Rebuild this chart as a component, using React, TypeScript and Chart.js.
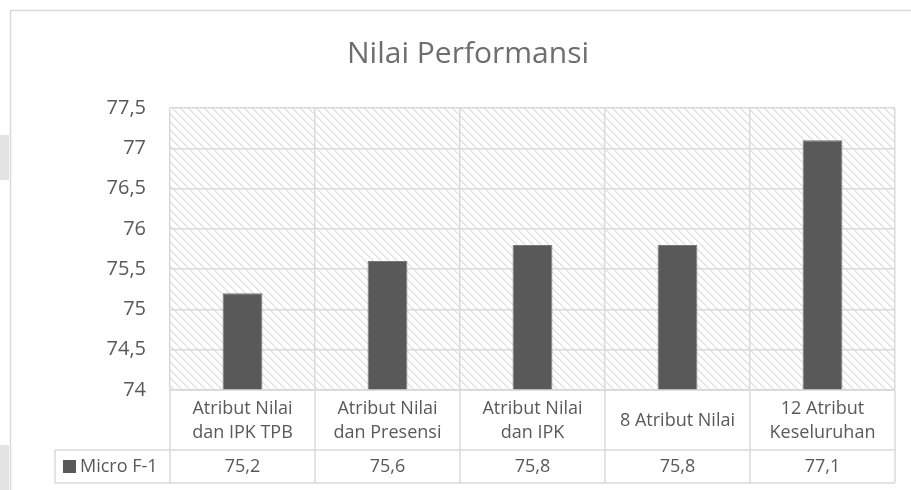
import React, { useEffect, useRef } from "react";
import { Chart, registerables } from "chart.js";

Chart.register(...registerables);

const title = "Nilai Performansi";
const seriesName = "Micro F-1";
const categories: string[][] = [
  ["Atribut Nilai", "dan IPK TPB"],
  ["Atribut Nilai", "dan Presensi"],
  ["Atribut Nilai", "dan IPK"],
  ["8 Atribut Nilai"],
  ["12 Atribut", "Keseluruhan"],
];
const values: number[] = [75.2, 75.6, 75.8, 75.8, 77.1];
const yMin = 74;
const yMax = 77.5;
const yStep = 0.5;

const FONT = "'Open Sans', 'Noto Sans', sans-serif";
const TEXT = "#595959";
const GRID = "#d9d9d9";
const BAR = "#595959";

const fmt = (v: number) => String(v).replace(".", ",");

function makePattern(ctx: CanvasRenderingContext2D) {
  const c = document.createElement("canvas");
  c.width = 8;
  c.height = 8;
  const p = c.getContext("2d")!;
  p.fillStyle = "#ffffff";
  p.fillRect(0, 0, 8, 8);
  for (let i = 0; i < 8; i++) {
    p.fillStyle = "#dedede";
    p.fillRect(i, i, 1, 1);
    p.fillStyle = "#ebebeb";
    p.fillRect((i + 1) % 8, i, 1, 1);
  }
  return ctx.createPattern(c, "repeat");
}

const ROW1 = 60;
const ROW2 = 33;

const decorPlugin = {
  id: "decor",
  beforeDraw(chart: any) {
    const { ctx, chartArea } = chart;
    ctx.save();
    ctx.fillStyle = "#ffffff";
    ctx.fillRect(0, 0, chart.width, chart.height);
    // page side blocks
    ctx.fillStyle = "#e3e3e3";
    ctx.fillRect(0, 135, 9, 45);
    ctx.fillRect(0, 445, 9, 45);
    // outer frame
    ctx.strokeStyle = GRID;
    ctx.lineWidth = 1.5;
    ctx.beginPath();
    ctx.moveTo(10.5, chart.height);
    ctx.lineTo(10.5, 10.5);
    ctx.lineTo(chart.width, 10.5);
    ctx.stroke();
    // hatch
    const pat = makePattern(ctx);
    if (pat) {
      ctx.fillStyle = pat;
      ctx.fillRect(chartArea.left, chartArea.top, chartArea.right - chartArea.left, chartArea.bottom - chartArea.top);
    }
    // title
    ctx.fillStyle = "#6e6e6e";
    ctx.font = `30px ${FONT}`;
    ctx.textAlign = "center";
    ctx.textBaseline = "alphabetic";
    ctx.fillText(title, 468, 63);
    ctx.restore();
  },
  afterDraw(chart: any) {
    const { ctx, chartArea } = chart;
    const xs = chart.scales.x;
    const n = categories.length;
    const step = xs.getPixelForValue(1) - xs.getPixelForValue(0);
    const top = chartArea.bottom;
    const mid = top + ROW1;
    const bot = mid + ROW2;
    const legendLeft = 55;
    ctx.save();
    ctx.strokeStyle = GRID;
    ctx.lineWidth = 1.5;
    ctx.beginPath();
    for (let i = 0; i <= n; i++) {
      const x = xs.getPixelForValue(0) - step / 2 + i * step;
      ctx.moveTo(x, top);
      ctx.lineTo(x, bot);
    }
    ctx.moveTo(chartArea.left, top);
    ctx.lineTo(chartArea.right, top);
    ctx.moveTo(legendLeft, mid);
    ctx.lineTo(chartArea.right, mid);
    ctx.moveTo(legendLeft, bot);
    ctx.lineTo(chartArea.right, bot);
    ctx.moveTo(legendLeft, mid);
    ctx.lineTo(legendLeft, bot);
    ctx.stroke();

    ctx.fillStyle = TEXT;
    ctx.textAlign = "center";
    ctx.textBaseline = "middle";
    ctx.font = `18px ${FONT}`;
    const lh = 24;
    categories.forEach((lines, i) => {
      const x = xs.getPixelForValue(i);
      const cy = top + ROW1 / 2 + 1;
      const start = cy - ((lines.length - 1) * lh) / 2;
      lines.forEach((t, j) => ctx.fillText(t, x, start + j * lh));
    });
    ctx.font = `18px ${FONT}`;
    values.forEach((v, i) => {
      const x = xs.getPixelForValue(i);
      ctx.fillText(fmt(v), x, mid + ROW2 / 2);
    });
    // legend
    ctx.fillStyle = BAR;
    ctx.fillRect(legendLeft + 8, mid + ROW2 / 2 - 6.5, 13, 13);
    ctx.fillStyle = TEXT;
    ctx.textAlign = "left";
    ctx.fillText(seriesName, legendLeft + 25, mid + ROW2 / 2);
    ctx.restore();
  },
};

export default function App() {
  const ref = useRef<HTMLCanvasElement | null>(null);
  useEffect(() => {
    document.body.style.margin = "0";
    if (!ref.current) return;
    const chart = new Chart(ref.current, {
      type: "bar",
      data: {
        labels: categories.map((c) => c.join(" ")),
        datasets: [
          {
            label: seriesName,
            data: values,
            backgroundColor: BAR,
            borderColor: "#767676",
            borderWidth: 1,
            barPercentage: 0.275,
            categoryPercentage: 1,
          },
        ],
      },
      options: {
        responsive: false,
        animation: false,
        layout: { padding: { left: 0, top: 108, right: 16, bottom: 40 } },
        plugins: { legend: { display: false }, title: { display: false }, tooltip: { enabled: false } },
        scales: {
          x: {
            ticks: { display: false },
            grid: { color: GRID, lineWidth: 1.5, drawTicks: false, offset: true },
            border: { display: false },
            afterFit: (s: any) => {
              s.height = ROW1;
            },
          },
          y: {
            min: yMin,
            max: yMax,
            ticks: {
              stepSize: yStep,
              color: TEXT,
              font: { family: FONT, size: 20 },
              padding: 24,
              callback: (v: any) => fmt(Number(v)),
            },
            grid: { color: GRID, lineWidth: 1.5, drawTicks: false },
            border: { display: false },
            afterFit: (s: any) => {
              s.width = 170;
            },
          },
        },
      },
      plugins: [decorPlugin],
    });
    return () => chart.destroy();
  }, []);
  return (
    <div style={{ width: 911, height: 490 }}>
      <canvas ref={ref} width={911} height={490} />
    </div>
  );
}
